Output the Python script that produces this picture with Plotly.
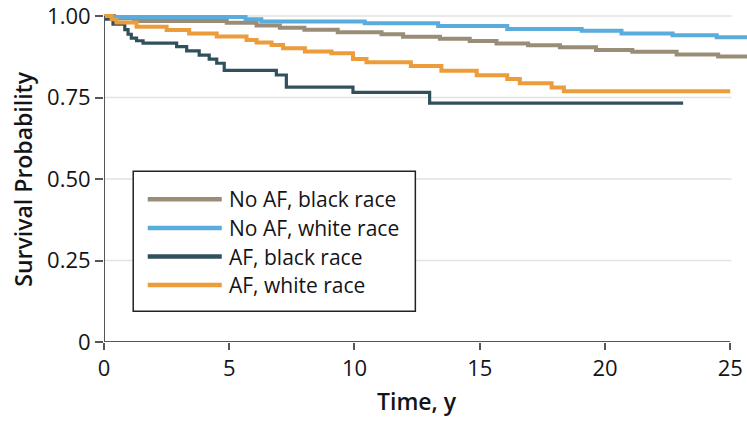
import plotly.graph_objects as go

# ---------------- data ----------------
series_names = ["No AF, black race", "No AF, white race", "AF, black race", "AF, white race"]
series_colors = ["#9A8D78", "#5AACDD", "#30505C", "#EC9C3A"]
series_widths = [4, 4, 3.2, 4]

no_af_black_t = [0, 0.4, 1.2, 4.9, 6.09, 7.02, 8.0, 9.33, 11.08, 11.94, 13.41, 14.60, 15.67,
                 16.93, 18.20, 19.64, 21.09, 22.86, 24.52, 26.0]
no_af_black_s = [1.0, 0.993, 0.985, 0.979, 0.971, 0.964, 0.958, 0.950, 0.944, 0.936, 0.930, 0.923,
                 0.916, 0.910, 0.904, 0.896, 0.890, 0.882, 0.876, 0.876]

no_af_white_t = [0, 0.3, 5.65, 6.28, 10.41, 13.34, 16.1, 19.07, 20.66, 22.7, 24.46, 26.0]
no_af_white_s = [1.0, 0.997, 0.990, 0.983, 0.978, 0.969, 0.960, 0.955, 0.946, 0.941, 0.935, 0.935]

af_black_t = [0, 0.1, 0.36, 0.83, 0.96, 1.09, 1.3, 1.56, 2.9, 3.3, 3.8, 4.2, 4.5, 4.8,
              6.88, 7.28, 9.94, 13.0, 23.12]
af_black_s = [1.0, 0.99, 0.975, 0.958, 0.944, 0.932, 0.924, 0.917, 0.906, 0.893, 0.880, 0.868,
              0.855, 0.833, 0.819, 0.782, 0.766, 0.733, 0.733]

af_white_t = [0, 0.3, 0.5, 1.3, 2.5, 3.4, 4.5, 5.69, 6.09, 6.69, 7.15, 8.02, 9.08, 9.94, 10.48,
              12.25, 13.47, 14.88, 16.10, 16.60, 17.87, 18.36, 25.0]
af_white_s = [1.0, 0.99, 0.980, 0.967, 0.957, 0.946, 0.937, 0.926, 0.919, 0.911, 0.901, 0.891,
              0.886, 0.868, 0.858, 0.847, 0.832, 0.818, 0.807, 0.794, 0.781, 0.769, 0.769]

x_ticks = [0, 5, 10, 15, 20, 25]
y_ticks = [0, 0.25, 0.50, 0.75, 1.00]
y_tick_labels = ["0", "0.25", "0.50", "0.75", "1.00"]
x_title = "Time, y"
y_title = "Survival Probability"

all_t = [no_af_black_t, no_af_white_t, af_black_t, af_white_t]
all_s = [no_af_black_s, no_af_white_s, af_black_s, af_white_s]

# ---------------- layout geometry (screen px; page body margin removed) ----------------
W, H = 747, 421
PLOT_L, PLOT_R, PLOT_T, PLOT_B = 104.3, 747, 10, 342.3
ML, MR, MT, MB = PLOT_L, W - PLOT_R, PLOT_T, H - PLOT_B
PW, PH = PLOT_R - PLOT_L, PLOT_B - PLOT_T
X_RANGE = [0, 25.67]
Y_RANGE = [0, 1.0184]

def px_to_paper_x(px):
    return (px - PLOT_L) / PW

def px_to_paper_y(py):
    return (PLOT_B - py) / PH

FONT = "Open Sans"
TXT = "#141418"
AX = "#55565a"

fig = go.Figure()
for name, t, s, c, w in zip(series_names, all_t, all_s, series_colors, series_widths):
    fig.add_trace(go.Scatter(x=t, y=s, mode="lines", name=name,
                             line=dict(color=c, width=w, shape="hv"), showlegend=False))

shapes = []
for yv in y_ticks[1:]:
    shapes.append(dict(type="line", xref="x", yref="y", x0=0, x1=25.05, y0=yv, y1=yv,
                       line=dict(color="#e2e2e2", width=1.5), layer="below"))
shapes.append(dict(type="line", xref="x", yref="y", x0=0, x1=25, y0=0, y1=0,
                   line=dict(color=AX, width=2), layer="above"))
shapes.append(dict(type="line", xref="x", yref="y", x0=0, x1=0, y0=0, y1=1.0,
                   line=dict(color=AX, width=2), layer="above"))

# legend box (drawn by hand to get the long line samples of the reference)
shapes.append(dict(type="rect", xref="paper", yref="paper",
                   x0=px_to_paper_x(133.5), x1=px_to_paper_x(415.5),
                   y0=px_to_paper_y(311.5), y1=px_to_paper_y(171.5),
                   line=dict(color="#222222", width=1.5), fillcolor="white", layer="above"))
row_y = [199.5, 228.3, 256.8, 285.2]
annotations = []
for name, c, ry in zip(series_names, series_colors, row_y):
    shapes.append(dict(type="line", xref="paper", yref="paper",
                       x0=px_to_paper_x(148), x1=px_to_paper_x(222),
                       y0=px_to_paper_y(ry), y1=px_to_paper_y(ry),
                       line=dict(color=c, width=4.5), layer="above"))
    annotations.append(dict(text=name, xref="paper", yref="paper", x=px_to_paper_x(227),
                            y=px_to_paper_y(ry), xanchor="left", yanchor="middle", showarrow=False,
                            font=dict(family=FONT, size=21, color=TXT)))

annotations.append(dict(text=x_title, xref="x", yref="paper", x=12.5, y=px_to_paper_y(401),
                        xanchor="center", yanchor="middle", showarrow=False,
                        font=dict(family=FONT, size=23, color=TXT, weight=600)))
annotations.append(dict(text=y_title, xref="paper", yref="y", x=px_to_paper_x(23), y=0.5,
                        xanchor="center", yanchor="middle", showarrow=False, textangle=-90,
                        font=dict(family=FONT, size=23, color=TXT, weight=600)))

fig.update_layout(
    width=W, height=H, margin=dict(l=ML, r=MR, t=MT, b=MB, autoexpand=False),
    paper_bgcolor="white", plot_bgcolor="white",
    shapes=shapes, annotations=annotations, showlegend=False,
    xaxis=dict(range=X_RANGE, tickvals=x_ticks, ticktext=[str(v) for v in x_ticks],
               showgrid=False, zeroline=False, showline=False, automargin=False,
               ticks="outside", ticklen=7, tickwidth=1.5, tickcolor=AX,
               ticklabeloverflow="allow",
               tickfont=dict(family=FONT, size=22, color=TXT)),
    yaxis=dict(range=Y_RANGE, tickvals=y_ticks, ticktext=y_tick_labels,
               showgrid=False, zeroline=False, showline=False, automargin=False,
               ticks="outside", ticklen=8, tickwidth=1.5, tickcolor=AX,
               ticklabeloverflow="allow",
               tickfont=dict(family=FONT, size=22, color=TXT)),
)

fig.write_html("out.html", config={"displayModeBar": False},
               post_script="document.body.style.margin='0';document.body.style.overflow='hidden';")
